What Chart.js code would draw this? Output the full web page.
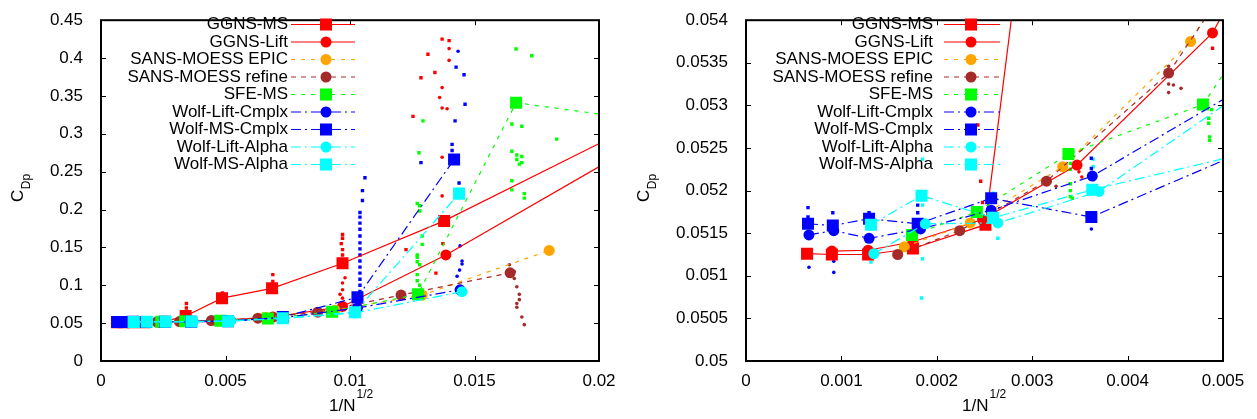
<!DOCTYPE html>
<html>
<head>
<meta charset="utf-8">
<script src="https://cdn.jsdelivr.net/npm/chart.js@4.4.0/dist/chart.umd.min.js"></script>
<style>
html, body { margin: 0; padding: 0; background: #fff; }
#wrap { position: relative; width: 1257px; height: 419px; }
#left { position: absolute; left: 0; top: 0; }
#right { position: absolute; left: 620px; top: 0; }
</style>
</head>
<body>
<div id="wrap">
  <canvas id="left" width="640" height="419"></canvas>
  <canvas id="right" width="637" height="419"></canvas>
</div>
<script>
// series: x = 1/N^(1/2), y = C_Dp
const names = ['GGNS-MS', 'GGNS-Lift', 'SANS-MOESS EPIC', 'SANS-MOESS refine', 'SFE-MS',
  'Wolf-Lift-Cmplx', 'Wolf-MS-Cmplx', 'Wolf-Lift-Alpha', 'Wolf-MS-Alpha'];

const ggnsMsX = [0.00064, 0.0009, 0.00128, 0.00175, 0.00251, 0.0034, 0.00486, 0.00687, 0.0097, 0.01378, 0.0275];
const ggnsMsY = [0.05126, 0.05125, 0.05125, 0.05132, 0.0516, 0.0595, 0.083, 0.096, 0.129, 0.185, 0.41];
const ggnsLiftX = [0.0009, 0.00128, 0.00175, 0.00248, 0.00347, 0.00489, 0.0069, 0.0097, 0.01385, 0.026];
const ggnsLiftY = [0.05129, 0.0513, 0.0514, 0.05166, 0.0523, 0.05385, 0.058, 0.072, 0.14, 0.37];
const epicX = [0.00166, 0.00235, 0.00332, 0.00466, 0.0066, 0.0094, 0.0129, 0.018];
const epicY = [0.05134, 0.05162, 0.05228, 0.05375, 0.0575, 0.067, 0.087, 0.146];
const refineX = [0.00159, 0.00224, 0.00315, 0.00443, 0.0063, 0.0087, 0.01205, 0.01643];
const refineY = [0.05125, 0.05153, 0.05211, 0.05338, 0.0565, 0.0645, 0.087, 0.1165];
const sfeX = [0.00174, 0.00242, 0.00338, 0.00479, 0.0067, 0.00928, 0.01273, 0.01667, 0.025];
const sfeY = [0.05148, 0.05175, 0.05243, 0.05301, 0.0562, 0.065, 0.088, 0.341, 0.304];
const wlcX = [0.00066, 0.00092, 0.00129, 0.00183, 0.00257, 0.00363, 0.0052, 0.0073, 0.0103, 0.01442];
const wlcY = [0.05148, 0.05153, 0.05144, 0.05155, 0.05177, 0.05217, 0.0532, 0.057, 0.07, 0.094];
const wmcX = [0.00065, 0.00091, 0.00129, 0.0018, 0.00257, 0.00362, 0.0051, 0.0073, 0.0103, 0.01418];
const wmcY = [0.05161, 0.05159, 0.05167, 0.05161, 0.05191, 0.05169, 0.0524, 0.058, 0.084, 0.266];
const wlaX = [0.00134, 0.00188, 0.00264, 0.0037, 0.0052, 0.0073, 0.0102, 0.0145];
const wlaY = [0.05126, 0.05161, 0.05162, 0.05199, 0.05315, 0.056, 0.0635, 0.0915];
const wmaX = [0.00131, 0.00184, 0.00259, 0.00363, 0.0051, 0.0073, 0.0102, 0.01438];
const wmaY = [0.0516, 0.05194, 0.05168, 0.05201, 0.0524, 0.0565, 0.0645, 0.221];

// small history points scattered around the main ones
const redSqDotX = [0.00343, 0.00343, 0.00488, 0.0069, 0.0069, 0.0097, 0.0097, 0.00965, 0.0097, 0.0097,
  0.01253, 0.01285, 0.01341, 0.01313, 0.0137, 0.01398, 0.01225, 0.01373, 0.01345, 0.00243, 0.00246, 0.00248, 0.00489];
const redSqDotY = [0.070, 0.076, 0.090, 0.105, 0.114, 0.140, 0.147, 0.155, 0.162, 0.167,
  0.323, 0.374, 0.381, 0.405, 0.425, 0.423, 0.147, 0.155, 0.116, 0.05277, 0.05211, 0.05186, 0.05367];
const redCirDotX = [0.0098, 0.0097, 0.0097, 0.0096, 0.0097, 0.0097, 0.01398, 0.01398, 0.0137, 0.0136,
  0.0137, 0.0139, 0.0137, 0.0137, 0.00349, 0.00352];
const redCirDotY = [0.110, 0.103, 0.094, 0.088, 0.083, 0.077, 0.4125, 0.397, 0.361, 0.348,
  0.334, 0.333, 0.269, 0.218, 0.05222, 0.05216];
const blueSqDotX = [0.0104, 0.0104, 0.0104, 0.0104, 0.0104, 0.0104, 0.0104, 0.0104, 0.0104, 0.0104,
  0.0104, 0.0104, 0.0104, 0.0104, 0.0105, 0.0105, 0.0106, 0.01426, 0.01458, 0.01462, 0.01422, 0.0141,
  0.0141, 0.01438, 0.01285, 0.00065, 0.00065, 0.00091, 0.00129, 0.00129, 0.0018, 0.0018, 0.00362, 0.00362];
const blueSqDotY = [0.092, 0.100, 0.108, 0.116, 0.124, 0.132, 0.140, 0.148, 0.156, 0.165,
  0.174, 0.182, 0.190, 0.196, 0.212, 0.225, 0.242, 0.388, 0.378, 0.339, 0.317, 0.286,
  0.278, 0.235, 0.262, 0.0518, 0.05169, 0.05174, 0.05174, 0.05169, 0.05183, 0.05174, 0.05238, 0.05226];
const blueCirDotX = [0.01434, 0.01442, 0.0145, 0.0145, 0.0144, 0.0143, 0.00066, 0.00092, 0.00092, 0.00362];
const blueCirDotY = [0.409, 0.152, 0.132, 0.128, 0.120, 0.112, 0.0511, 0.05104, 0.05117, 0.05155];
const greenDotX = [0.0128, 0.0127, 0.0127, 0.0128, 0.0127, 0.0127, 0.0127, 0.0129, 0.0129, 0.0128,
  0.0127, 0.0128, 0.01277, 0.01293, 0.01667, 0.0173, 0.0165, 0.0169, 0.0183, 0.0165, 0.0167, 0.0167,
  0.0169, 0.0168, 0.0169, 0.0165, 0.0165, 0.0170, 0.0170,
  0.0034, 0.0034, 0.0034, 0.0034, 0.0034, 0.00342, 0.00485, 0.00485, 0.00486, 0.00486, 0.00488];
const greenDotY = [0.100, 0.106, 0.114, 0.127, 0.131, 0.137, 0.140, 0.154, 0.165, 0.198,
  0.208, 0.205, 0.275, 0.317, 0.412, 0.403, 0.313, 0.310, 0.293, 0.277, 0.272, 0.266,
  0.262, 0.260, 0.270, 0.238, 0.226, 0.221, 0.215,
  0.05232, 0.05225, 0.05208, 0.052, 0.05193, 0.05191, 0.05285, 0.05279, 0.05263, 0.05259, 0.05295];
const cyanDotX = [0.00185, 0.00185, 0.00185, 0.00184, 0.00131, 0.00364, 0.00364, 0.00364, 0.00264, 0.00259];
const cyanDotY = [0.05237, 0.05183, 0.0512, 0.05074, 0.05116, 0.05237, 0.05228, 0.05213, 0.05144, 0.05197];
const brownDotX = [0.0164, 0.0166, 0.0166, 0.0167, 0.0168, 0.0168, 0.0167, 0.0167, 0.0169, 0.0170,
  0.00443, 0.00443, 0.00443, 0.00443, 0.00448, 0.00456, 0.00325];
const brownDotY = [0.127, 0.118, 0.109, 0.098, 0.088, 0.081, 0.076, 0.071, 0.058, 0.048,
  0.05346, 0.05335, 0.05325, 0.05315, 0.05324, 0.0532, 0.05205];

// tick labels
const leftXTicks = [0, 0.005, 0.01, 0.015, 0.02];
const leftYTicks = [0, 0.05, 0.1, 0.15, 0.2, 0.25, 0.3, 0.35, 0.4, 0.45];
const rightXTicks = [0, 0.001, 0.002, 0.003, 0.004, 0.005];
const rightYTicks = [0.05, 0.0505, 0.051, 0.0515, 0.052, 0.0525, 0.053, 0.0535, 0.054];

const FONT = '"Liberation Sans", Arial, sans-serif';

function pts(xs, ys) {
  return xs.map((x, i) => ({ x: x, y: ys[i] }));
}

const mainSeries = [
  [ggnsMsX, ggnsMsY, '#ff0000', [], 'rect'],
  [ggnsLiftX, ggnsLiftY, '#ff0000', [], 'circle'],
  [epicX, epicY, '#ffa500', [4, 6], 'circle'],
  [refineX, refineY, '#a52a2a', [5, 5], 'circle'],
  [sfeX, sfeY, '#00ff00', [4, 6], 'rect'],
  [wlcX, wlcY, '#0000ff', [10, 4, 2, 4], 'circle'],
  [wmcX, wmcY, '#0000ff', [10, 4, 2, 4], 'rect'],
  [wlaX, wlaY, '#00ffff', [10, 4, 2, 4], 'circle'],
  [wmaX, wmaY, '#00ffff', [10, 4, 2, 4], 'rect']
];

const dotSeries = [
  [redSqDotX, redSqDotY, '#ff0000', 'rect'],
  [redCirDotX, redCirDotY, '#ff0000', 'circle'],
  [brownDotX, brownDotY, '#a52a2a', 'circle'],
  [greenDotX, greenDotY, '#00ff00', 'rect'],
  [blueSqDotX, blueSqDotY, '#0000ff', 'rect'],
  [blueCirDotX, blueCirDotY, '#0000ff', 'circle'],
  [cyanDotX, cyanDotY, '#00ffff', 'rect']
];

function buildDatasets() {
  const sets = [];
  mainSeries.forEach((s, i) => {
    sets.push({
      label: names[i],
      data: pts(s[0], s[1]),
      showLine: true,
      borderColor: s[2],
      backgroundColor: s[2],
      borderWidth: 1.2,
      borderDash: s[3],
      pointStyle: s[4],
      pointRadius: s[4] == 'rect' ? 8.5 : 5.5,
      pointBorderWidth: 0,
      pointBackgroundColor: s[2],
      clip: 0,
      order: 50 - i,
      isMain: true
    });
  });
  dotSeries.forEach(s => {
    sets.push({
      data: pts(s[0], s[1]),
      showLine: false,
      backgroundColor: s[2],
      borderColor: s[2],
      pointStyle: s[3],
      pointRadius: s[3] == 'rect' ? 2.4 : 1.8,
      pointBorderWidth: 0,
      clip: 0,
      order: 100
    });
  });
  return sets;
}

function decorPlugin(o) {
  return {
    id: 'decor',
    afterDraw(chart) {
      const ctx = chart.ctx, a = chart.chartArea;
      const xs = chart.scales.x, ys = chart.scales.y;
      ctx.save();
      // inward ticks on all four sides
      ctx.strokeStyle = '#000';
      ctx.lineWidth = 1;
      ctx.beginPath();
      xs.ticks.forEach(t => {
        const p = Math.round(xs.getPixelForValue(t.value)) + 0.5;
        ctx.moveTo(p, a.bottom); ctx.lineTo(p, a.bottom - 5);
        ctx.moveTo(p, a.top); ctx.lineTo(p, a.top + 5);
      });
      ys.ticks.forEach(t => {
        const p = Math.round(ys.getPixelForValue(t.value)) + 0.5;
        ctx.moveTo(a.left, p); ctx.lineTo(a.left + 5, p);
        ctx.moveTo(a.right, p); ctx.lineTo(a.right - 5, p);
      });
      ctx.stroke();
      ctx.lineWidth = 2;
      ctx.strokeRect(a.left, a.top, a.right - a.left, a.bottom - a.top);

      // key
      ctx.font = '17px ' + FONT;
      ctx.textAlign = 'right';
      ctx.textBaseline = 'middle';
      chart.data.datasets.filter(d => d.isMain).forEach((d, i) => {
        const y = o.keyY + i * 17.5;
        ctx.fillStyle = '#000';
        ctx.fillText(d.label, o.keyText, y);
        ctx.strokeStyle = d.borderColor;
        ctx.lineWidth = d.borderWidth;
        ctx.setLineDash(d.borderDash);
        ctx.beginPath();
        ctx.moveTo(o.keyL, y); ctx.lineTo(o.keyR, y);
        ctx.stroke();
        ctx.setLineDash([]);
        ctx.fillStyle = d.pointBackgroundColor;
        if (d.pointStyle == 'rect') {
          const s = d.pointRadius * Math.SQRT2;
          ctx.fillRect(o.keyM - s / 2, y - s / 2, s, s);
        } else {
          ctx.beginPath();
          ctx.arc(o.keyM, y, d.pointRadius, 0, Math.PI * 2);
          ctx.fill();
        }
      });

      // axis titles
      ctx.fillStyle = '#000';
      ctx.textAlign = 'left';
      ctx.textBaseline = 'alphabetic';
      ctx.save();
      ctx.translate(o.yTitleX, 202);
      ctx.rotate(-Math.PI / 2);
      ctx.font = '17px ' + FONT;
      ctx.fillText('C', 0, 0);
      const cw = ctx.measureText('C').width;
      ctx.font = '12px ' + FONT;
      ctx.fillText('Dp', cw + 0.5, 7);
      ctx.restore();

      ctx.font = '17px ' + FONT;
      ctx.fillText('1/N', o.xTitleX, 411);
      const nw = ctx.measureText('1/N').width;
      ctx.font = '12px ' + FONT;
      ctx.fillText('1/2', o.xTitleX + nw + 1, 398);
      ctx.restore();
    }
  };
}

function makeChart(id, xTicks, yTicks, padRight, yWidth, deco) {
  return new Chart(document.getElementById(id), {
    type: 'scatter',
    data: { datasets: buildDatasets() },
    options: {
      responsive: false,
      animation: false,
      events: [],
      layout: { padding: { top: 13, right: padRight, left: 0, bottom: 0 } },
      plugins: { legend: { display: false }, tooltip: { enabled: false } },
      scales: {
        x: {
          type: 'linear',
          min: xTicks[0],
          max: xTicks[xTicks.length - 1],
          grid: { display: false },
          border: { display: false },
          afterBuildTicks: s => { s.ticks = xTicks.map(v => ({ value: v })); },
          afterFit: s => { s.height = 58; },
          ticks: {
            color: '#000',
            padding: 2,
            maxRotation: 0,
            font: { family: FONT, size: 17 },
            callback: v => String(+v.toFixed(6))
          }
        },
        y: {
          type: 'linear',
          min: yTicks[0],
          max: yTicks[yTicks.length - 1],
          grid: { display: false },
          border: { display: false },
          afterBuildTicks: s => { s.ticks = yTicks.map(v => ({ value: v })); },
          afterFit: s => { s.width = yWidth; },
          ticks: {
            color: '#000',
            padding: 10,
            font: { family: FONT, size: 17 },
            callback: v => String(+v.toFixed(6))
          }
        }
      }
    },
    plugins: [decorPlugin(deco)]
  });
}

makeChart('left', leftXTicks, leftYTicks, 41, 101,
  { keyY: 24.5, keyText: 288, keyL: 291, keyR: 355, keyM: 326, yTitleX: 22.5, xTitleX: 329 });
makeChart('right', rightXTicks, rightYTicks, 34, 126,
  { keyY: 24.5, keyText: 313, keyL: 324, keyR: 380, keyM: 351, yTitleX: 28.5, xTitleX: 342 });
</script>
</body>
</html>
